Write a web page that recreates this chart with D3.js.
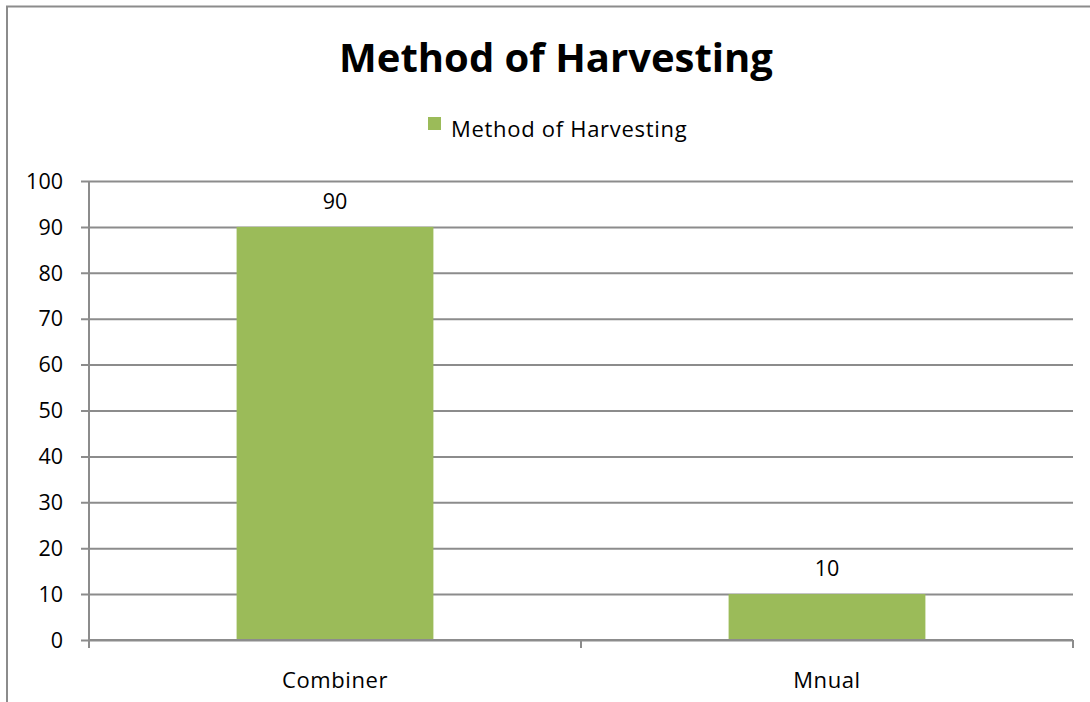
<!DOCTYPE html>
<html>
<head>
<meta charset="utf-8">
<script src="https://cdn.jsdelivr.net/npm/d3@7"></script>
<style>
  body { margin: 0; background: #fff; }
  text { font-family: "Open Sans", "Noto Sans", sans-serif; fill: #000; }
</style>
</head>
<body>
<svg id="chart" width="1090" height="702"></svg>
<script>
// chart data
var categories = ['Combiner', 'Mnual'];
var values = [90, 10];
var yTicks = [0, 10, 20, 30, 40, 50, 60, 70, 80, 90, 100];
var seriesName = 'Method of Harvesting';
var chartTitle = 'Method of Harvesting';

var svg = d3.select('#chart');
var margin = { top: 181, right: 17, bottom: 62, left: 89 },
    width = 1090 - margin.left - margin.right,
    height = 702 - margin.top - margin.bottom,
    filler = '#9bbb59',
    lineColor = '#8c8c8c';

// outer chart border (left + top only visible)
svg.append('path')
    .attr('d', 'M7,702 V6.5 H1090')
    .attr('fill', 'none')
    .attr('stroke', lineColor)
    .attr('stroke-width', 2);

svg.append('text')
    .attr('x', 556).attr('y', 72)
    .attr('text-anchor', 'middle')
    .style('font-size', '40px')
    .style('font-weight', 'bold')
    .text(chartTitle);

// legend
var legend = svg.append('g').attr('transform', 'translate(428,117)');
legend.append('rect').attr('width', 13).attr('height', 13).attr('fill', filler);
legend.append('text').attr('x', 23).attr('y', 20)
    .style('font-size', '22px')
    .style('letter-spacing', '0.7px')
    .text(seriesName);

var g = svg.append('g').attr('transform', 'translate(' + margin.left + ',' + margin.top + ')');

var x = d3.scaleBand().domain(categories).range([0, width])
    .paddingInner(0.6).paddingOuter(0.3);
var xCat = d3.scaleBand().domain(categories).range([0, width]);
var y = d3.scaleLinear().domain([0, 100]).range([height, 0]);

// gridlines
g.append('g')
    .call(d3.axisLeft(y).tickValues(yTicks).tickSize(-width).tickPadding(0).tickFormat(''))
    .call(function (a) {
        a.select('.domain').remove();
        a.selectAll('line').attr('stroke', lineColor).attr('stroke-width', 2)
            .attr('x1', -8);
    });

g.selectAll('.ylab').data(yTicks).enter().append('text')
    .attr('class', 'ylab')
    .attr('x', -26).attr('y', function (d) { return y(d); })
    .attr('dy', '0.36em')
    .attr('text-anchor', 'end')
    .style('font-size', '21.5px')
    .text(function (d) { return d; });

// bars
g.selectAll('.bar').data(values).enter().append('rect')
    .attr('class', 'bar')
    .attr('x', function (d, i) { return x(categories[i]); })
    .attr('width', x.bandwidth())
    .attr('y', function (d) { return y(d); })
    .attr('height', function (d) { return height - y(d); })
    .attr('fill', filler);

// data labels
g.selectAll('.dlab').data(values).enter().append('text')
    .attr('class', 'dlab')
    .attr('x', function (d, i) { return x(categories[i]) + x.bandwidth() / 2; })
    .attr('y', function (d) { return y(d) - 18; })
    .attr('text-anchor', 'middle')
    .style('font-size', '21.5px')
    .text(function (d) { return d; });

// y axis line
g.append('line').attr('x1', 0).attr('x2', 0).attr('y1', 0).attr('y2', height + 8)
    .attr('stroke', lineColor).attr('stroke-width', 2);

// x axis line + ticks
g.append('line').attr('x1', 0).attr('x2', width).attr('y1', height).attr('y2', height)
    .attr('stroke', lineColor).attr('stroke-width', 2);
var xTickPos = [0].concat(categories.map(function (c) { return xCat(c) + xCat.bandwidth(); }));
g.selectAll('.xtick').data(xTickPos).enter().append('line')
    .attr('x1', function (d) { return d; }).attr('x2', function (d) { return d; })
    .attr('y1', height).attr('y2', height + 8)
    .attr('stroke', lineColor).attr('stroke-width', 2);

g.selectAll('.xlab').data(categories).enter().append('text')
    .attr('x', function (d) { return xCat(d) + xCat.bandwidth() / 2; })
    .attr('y', height + 48)
    .attr('text-anchor', 'middle')
    .style('font-size', '22px')
    .style('letter-spacing', '0.6px')
    .text(function (d) { return d; });
</script>
</body>
</html>
